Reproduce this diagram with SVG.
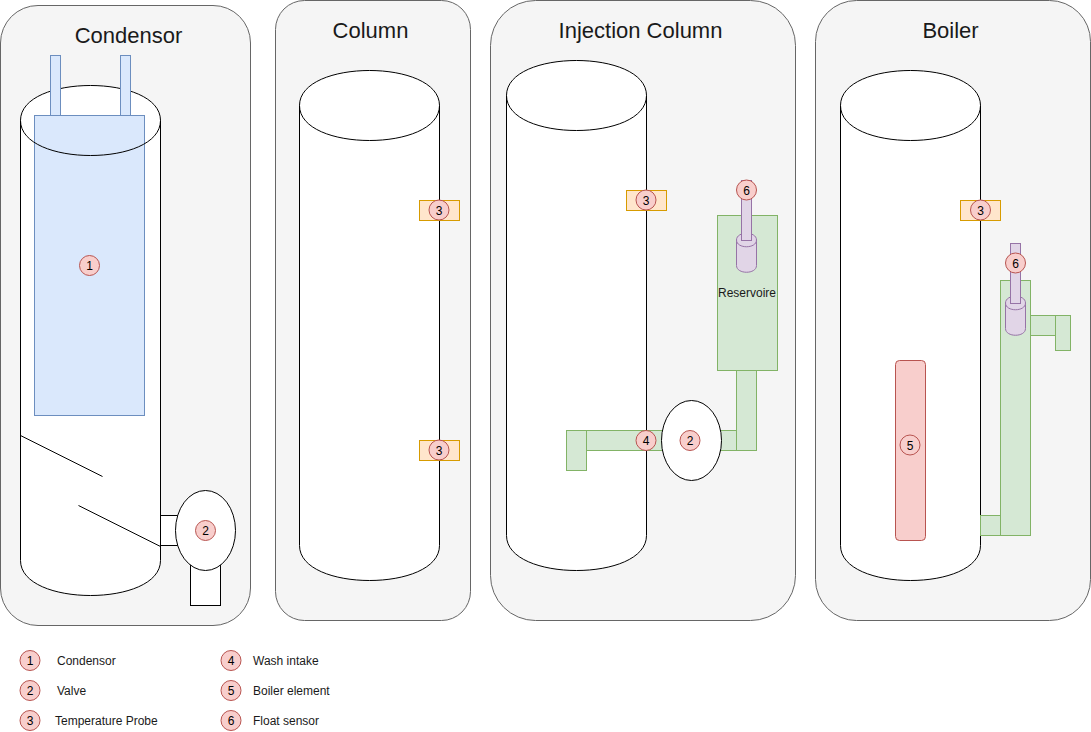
<svg xmlns="http://www.w3.org/2000/svg" width="1091" height="732" viewBox="0 0 1091 732">
<style>
text{font-family:"Liberation Sans",Arial,sans-serif;fill:#000}
.title{font-size:22px;text-anchor:middle;fill:#1a1a1a}
.lbl{font-size:12px;fill:#1a1a1a}
.num{font-size:12px;text-anchor:middle}
.panel{fill:#f5f5f5;stroke:#666;stroke-width:1}
.cyl{fill:#fff;stroke:#000;stroke-width:1}
.open{fill:none;stroke:#000;stroke-width:1}
.blue{fill:#dae8fc;stroke:#6c8ebf}
.green{fill:#d5e8d4;stroke:#82b366}
.purple{fill:#e1d5e7;stroke:#9673a6}
.orange{fill:#ffe6cc;stroke:#d79b00}
.red{fill:#f8cecc;stroke:#b85450}
.wire{fill:none;stroke:#000;stroke-width:1}
</style>
<defs>
<g id="badge"><circle r="10" class="red"/></g>
</defs>
<g id="panel-condensor"><rect class="panel" x="0.5" y="5.5" width="250" height="620" rx="37.5"/><text class="title" x="128.5" y="42.500">Condensor</text></g>
<g id="panel-column"><rect class="panel" x="275.5" y="0.5" width="195" height="620" rx="29"/><text class="title" x="370.5" y="37.500">Column</text></g>
<g id="panel-injection"><rect class="panel" x="490.5" y="0.5" width="305" height="620" rx="45"/><text class="title" x="640.5" y="37.500">Injection Column</text></g>
<g id="panel-boiler"><rect class="panel" x="815.5" y="0.5" width="275" height="620" rx="41"/><text class="title" x="950.5" y="37.500">Boiler</text></g>

<g id="condensor-column">
<path class="cyl" d="M20.5 120.5C20.5 73.83 160.5 73.83 160.5 120.5V560.5C160.5 607.17 20.5 607.17 20.5 560.5Z"/>
</g>
<g id="condensor-coil">
<rect class="blue" x="50.5" y="55.5" width="10" height="60"/>
<rect class="blue" x="120.5" y="55.5" width="10" height="60"/>
<rect class="blue" x="34.5" y="115.5" width="110" height="300"/>
<path class="open" d="M20.5 120.5C20.5 167.17 160.5 167.17 160.5 120.5"/>
<use href="#badge" x="89.5" y="265.5"/><text class="num" x="89.5" y="270">1</text>
</g>
<g id="connectors">
<path class="wire" d="M20.5 435.5L102.5 476.5"/>
<path class="wire" d="M78.5 505.5L160.5 546.5"/>
</g>
<g id="condensor-valve">
<rect x="160.5" y="515.5" width="30" height="30" fill="#fff" stroke="#000"/>
<rect x="190.5" y="555.5" width="30" height="50" fill="#fff" stroke="#000"/>
<ellipse class="cyl" cx="205.5" cy="530.5" rx="30" ry="40"/>
<use href="#badge" x="205.5" y="530.5"/><text class="num" x="205.5" y="535">2</text>
</g>

<g id="column-body">
<path class="cyl" d="M299.5 105.5C299.5 58.83 439.5 58.83 439.5 105.5V545.5C439.5 592.17 299.5 592.17 299.5 545.5Z"/>
<path class="open" d="M299.5 105.5C299.5 152.17 439.5 152.17 439.5 105.5"/>
</g>
<g id="column-probe-top"><rect class="orange" x="419.5" y="200.5" width="40" height="20"/><use href="#badge" x="439" y="210"/><text class="num" x="439" y="214.5">3</text></g>
<g id="column-probe-bottom"><rect class="orange" x="419.5" y="440.5" width="40" height="20"/><use href="#badge" x="439" y="450"/><text class="num" x="439" y="454.5">3</text></g>

<g id="injection-body">
<path class="cyl" d="M506.5 95.5C506.5 48.83 646.5 48.83 646.5 95.5V535.5C646.5 582.17 506.5 582.17 506.5 535.5Z"/>
<path class="open" d="M506.5 95.5C506.5 142.17 646.5 142.17 646.5 95.5"/>
</g>
<g id="injection-probe"><rect class="orange" x="626.5" y="190.5" width="40" height="20"/><use href="#badge" x="646" y="200"/><text class="num" x="646" y="204.5">3</text></g>
<g id="injection-intake">
<rect class="green" x="586.5" y="430.5" width="150" height="20"/>
<rect class="green" x="566.5" y="430.5" width="20" height="40"/>
<rect class="green" x="736.5" y="370.5" width="20" height="80"/>
<use href="#badge" x="646" y="440.5"/><text class="num" x="646" y="445">4</text>
</g>
<g id="injection-valve">
<ellipse class="cyl" cx="691.5" cy="440.5" rx="30" ry="40"/>
<use href="#badge" x="690" y="440.5"/><text class="num" x="690" y="445">2</text>
</g>
<g id="injection-reservoir">
<rect class="green" x="717.5" y="215.5" width="60" height="155"/>
<text class="lbl" x="747" y="297" text-anchor="middle">Reservoire</text>
</g>
<g id="injection-float">
<path class="purple" d="M736.5 240C736.5 231 756.5 231 756.5 240V265.5C756.5 274.5 736.5 274.5 736.5 265.5Z"/>
<path class="purple" d="M736.5 240C736.5 249 756.5 249 756.5 240" fill="none"/>
<rect class="purple" x="741.5" y="180.5" width="10" height="60"/>
<use href="#badge" x="746.5" y="190"/><text class="num" x="746.5" y="194.5">6</text>
</g>

<g id="boiler-body">
<path class="cyl" d="M840.5 105.5C840.5 58.83 980.5 58.83 980.5 105.5V545.5C980.5 592.17 840.5 592.17 840.5 545.5Z"/>
<path class="open" d="M840.5 105.5C840.5 152.17 980.5 152.17 980.5 105.5"/>
</g>
<g id="boiler-probe"><rect class="orange" x="960.5" y="200.5" width="40" height="20"/><use href="#badge" x="980.5" y="210"/><text class="num" x="980.5" y="214.5">3</text></g>
<g id="boiler-element">
<rect class="red" x="895.5" y="360.5" width="30" height="180" rx="4"/>
<use href="#badge" x="910" y="445"/><text class="num" x="910" y="449.5">5</text>
</g>
<g id="boiler-pipe">
<rect class="green" x="980.5" y="515.5" width="20" height="20"/>
<rect class="green" x="1000.5" y="280.5" width="30" height="255"/>
<rect class="green" x="1030.5" y="315.5" width="25" height="20"/>
<rect class="green" x="1055.5" y="315.5" width="15" height="35"/>
</g>
<g id="boiler-float">
<path class="purple" d="M1005.5 303C1005.5 294 1025.5 294 1025.5 303V328.5C1025.5 337.5 1005.5 337.5 1005.5 328.5Z"/>
<path class="purple" d="M1005.5 303C1005.5 312 1025.5 312 1025.5 303" fill="none"/>
<rect class="purple" x="1010.5" y="243.5" width="10" height="60"/>
<use href="#badge" x="1015.5" y="263"/><text class="num" x="1015.5" y="267.5">6</text>
</g>

<g id="legend">
<g id="legend-1"><use href="#badge" x="30" y="660.5"/><text class="num" x="30" y="665">1</text><text class="lbl" x="57" y="665">Condensor</text></g>
<g id="legend-2"><use href="#badge" x="30" y="690.5"/><text class="num" x="30" y="695">2</text><text class="lbl" x="57" y="695">Valve</text></g>
<g id="legend-3"><use href="#badge" x="30" y="720.5"/><text class="num" x="30" y="725">3</text><text class="lbl" x="55" y="725">Temperature Probe</text></g>
<g id="legend-4"><use href="#badge" x="231" y="660.5"/><text class="num" x="231" y="665">4</text><text class="lbl" x="253" y="665">Wash intake</text></g>
<g id="legend-5"><use href="#badge" x="231" y="690.5"/><text class="num" x="231" y="695">5</text><text class="lbl" x="253" y="695">Boiler element</text></g>
<g id="legend-6"><use href="#badge" x="231" y="720.5"/><text class="num" x="231" y="725">6</text><text class="lbl" x="253" y="725">Float sensor</text></g>
</g>
</svg>
